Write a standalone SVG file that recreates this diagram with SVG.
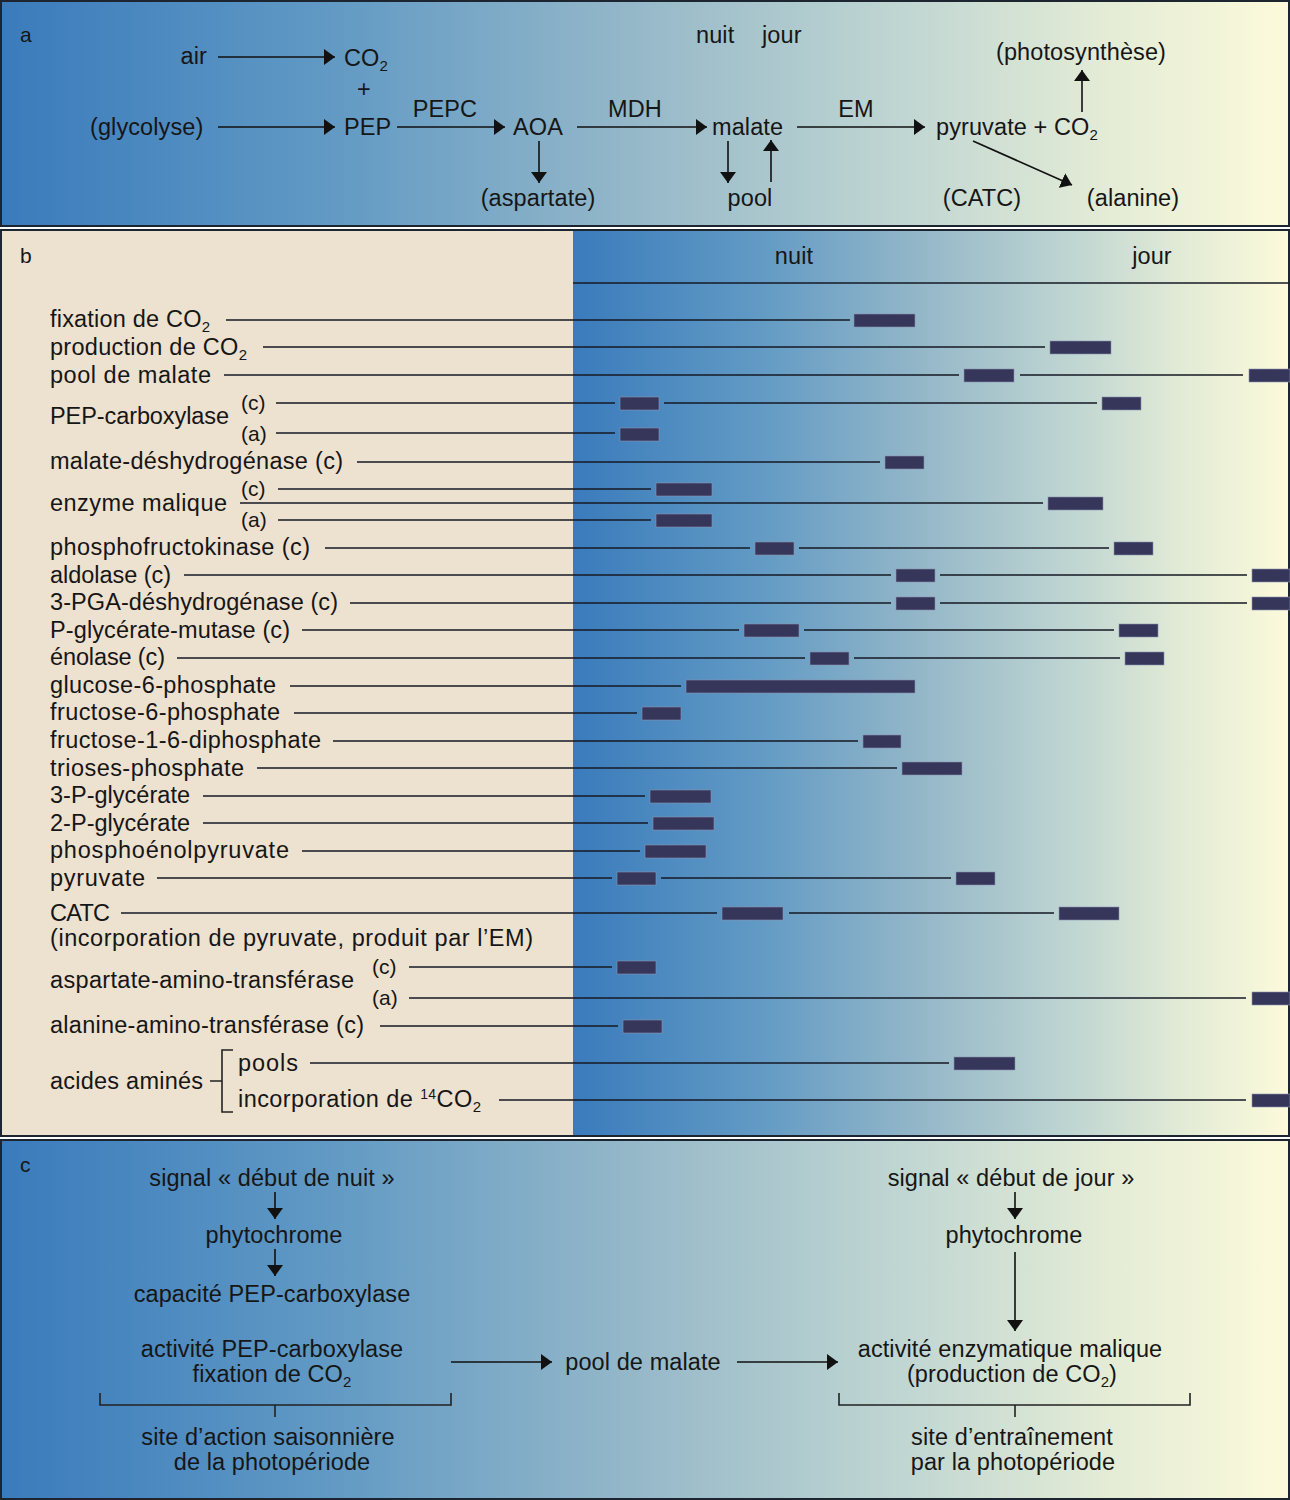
<svg xmlns="http://www.w3.org/2000/svg" width="1290" height="1500" viewBox="0 0 1290 1500">
<defs>
<linearGradient id="grad" x1="0" y1="0" x2="1" y2="0">
<stop offset="0" stop-color="#3a7bbc"/>
<stop offset="0.25" stop-color="#6099c4"/>
<stop offset="0.5" stop-color="#97b9c9"/>
<stop offset="0.7" stop-color="#c0d6d2"/>
<stop offset="0.86" stop-color="#e4ecd6"/>
<stop offset="1" stop-color="#fcfadb"/>
</linearGradient>
<marker id="ah" markerUnits="userSpaceOnUse" markerWidth="12" markerHeight="16" refX="11" refY="8" orient="auto">
<path d="M0,0 L11,8 L0,16 z" fill="#111"/>
</marker>
<style>
text{font-family:"Liberation Sans",Arial,sans-serif;font-size:23.5px;letter-spacing:0.1px;fill:#161616}
.m{text-anchor:middle}
.e{text-anchor:end}
.s{font-size:21px;letter-spacing:0}
.sub{font-size:15px}
#b-labels text{letter-spacing:0}
.ln{stroke:#161a24;stroke-width:1.6;fill:none}
.ar{stroke:#111;stroke-width:1.6;fill:none;marker-end:url(#ah)}
.br{stroke:#222;stroke-width:1.6;fill:none}
.bar{fill:#36365a;stroke:#8a93ad;stroke-width:0.6}
.frame{fill:none;stroke:#1d2530;stroke-width:2}
</style>
</defs>

<!-- backgrounds -->
<rect x="1" y="1" width="1288" height="225" fill="url(#grad)"/>
<rect x="1" y="230" width="572" height="906" fill="#ede1d0"/>
<rect x="573" y="230" width="716" height="906" fill="url(#grad)"/>
<rect x="1" y="1140" width="1288" height="359" fill="url(#grad)"/>
<rect class="frame" x="1" y="1" width="1288" height="225"/>
<rect class="frame" x="1" y="230" width="1288" height="906"/>
<rect class="frame" x="1" y="1140" width="1288" height="359"/>

<!-- ===== Panel a ===== -->
<text x="20" y="42" class="s">a</text>
<g id="a-air"><text x="207" y="64" class="e">air</text></g>
<g id="a-co2"><text x="344" y="66">CO<tspan class="sub" dy="5">2</tspan></text></g>
<g id="a-plus"><text x="364" y="97" class="m">+</text></g>
<g id="a-glycolyse"><text x="90" y="135">(glycolyse)</text></g>
<g id="a-pep"><text x="344" y="135">PEP</text></g>
<g id="a-pepc"><text x="445" y="117" class="m">PEPC</text></g>
<g id="a-aoa"><text x="513" y="135">AOA</text></g>
<g id="a-aspartate"><text x="538" y="206" class="m">(aspartate)</text></g>
<g id="a-mdh"><text x="635" y="117" class="m">MDH</text></g>
<g id="a-malate"><text x="712" y="135">malate</text></g>
<g id="a-pool"><text x="750" y="206" class="m">pool</text></g>
<g id="a-nuitjour"><text x="696" y="43">nuit</text><text x="762" y="43">jour</text></g>
<g id="a-em"><text x="856" y="117" class="m">EM</text></g>
<g id="a-pyruvate"><text x="936" y="135">pyruvate + CO<tspan class="sub" dy="5">2</tspan></text></g>
<g id="a-photosynthese"><text x="1081" y="60" class="m">(photosynthèse)</text></g>
<g id="a-catc"><text x="982" y="206" class="m">(CATC)</text></g>
<g id="a-alanine"><text x="1133" y="206" class="m">(alanine)</text></g>

<g id="a-connectors">
<path class="ar" d="M218,57 H335"/>
<path class="ar" d="M218,127 H335"/>
<path class="ar" d="M397,127 H505"/>
<path class="ar" d="M577,127 H707"/>
<path class="ar" d="M797,127 H925"/>
<path class="ar" d="M539,141 V183"/>
<path class="ar" d="M728,141 V183"/>
<path class="ar" d="M771,182 V140"/>
<path class="ar" d="M1082,112 V70"/>
<path class="ar" d="M973,141 L1072,185"/>
</g>

<!-- ===== Panel b ===== -->
<text x="20" y="263" class="s">b</text>
<g id="b-header">
<text x="794" y="264" class="m">nuit</text>
<text x="1152" y="264" class="m">jour</text>
<path class="ln" d="M573,283 H1290" stroke-width="2"/>
</g>

<g id="b-labels">
<text x="50" y="327" textLength="160" lengthAdjust="spacing">fixation de CO<tspan class="sub" dy="5">2</tspan></text>
<text x="50" y="355" textLength="197" lengthAdjust="spacing">production de CO<tspan class="sub" dy="5">2</tspan></text>
<text x="50" y="383" textLength="161" lengthAdjust="spacing">pool de malate</text>
<text x="50" y="424" textLength="179" lengthAdjust="spacing">PEP-carboxylase</text>
<text x="241" y="410" class="s">(c)</text>
<text x="241" y="441" class="s">(a)</text>
<text x="50" y="469" textLength="293" lengthAdjust="spacing">malate-déshydrogénase (c)</text>
<text x="50" y="511" textLength="177" lengthAdjust="spacing">enzyme malique</text>
<text x="241" y="496" class="s">(c)</text>
<text x="241" y="527" class="s">(a)</text>
<text x="50" y="555" textLength="260" lengthAdjust="spacing">phosphofructokinase (c)</text>
<text x="50" y="583" textLength="121" lengthAdjust="spacing">aldolase (c)</text>
<text x="50" y="610" textLength="288" lengthAdjust="spacing">3-PGA-déshydrogénase (c)</text>
<text x="50" y="638" textLength="240" lengthAdjust="spacing">P-glycérate-mutase (c)</text>
<text x="50" y="665" textLength="115" lengthAdjust="spacing">énolase (c)</text>
<text x="50" y="693" textLength="226" lengthAdjust="spacing">glucose-6-phosphate</text>
<text x="50" y="720" textLength="230" lengthAdjust="spacing">fructose-6-phosphate</text>
<text x="50" y="748" textLength="271" lengthAdjust="spacing">fructose-1-6-diphosphate</text>
<text x="50" y="776" textLength="194" lengthAdjust="spacing">trioses-phosphate</text>
<text x="50" y="803" textLength="140" lengthAdjust="spacing">3-P-glycérate</text>
<text x="50" y="831" textLength="140" lengthAdjust="spacing">2-P-glycérate</text>
<text x="50" y="858" textLength="239" lengthAdjust="spacing">phosphoénolpyruvate</text>
<text x="50" y="886" textLength="95" lengthAdjust="spacing">pyruvate</text>
<text x="50" y="921" textLength="60" lengthAdjust="spacing">CATC</text>
<text x="50" y="946" textLength="483" lengthAdjust="spacing">(incorporation de pyruvate, produit par l’EM)</text>
<text x="50" y="988" textLength="304" lengthAdjust="spacing">aspartate-amino-transférase</text>
<text x="372" y="974" class="s">(c)</text>
<text x="372" y="1005" class="s">(a)</text>
<text x="50" y="1033" textLength="314" lengthAdjust="spacing">alanine-amino-transférase (c)</text>
<text x="50" y="1089" textLength="153" lengthAdjust="spacing">acides aminés</text>
<text x="238" y="1071" textLength="60" lengthAdjust="spacing">pools</text>
<text x="238" y="1107" textLength="243" lengthAdjust="spacing">incorporation de <tspan font-size="14" dy="-8">14</tspan><tspan dy="8">CO</tspan><tspan class="sub" dy="5">2</tspan></text>
<path class="br" d="M210,1081 H222 M233,1050 H222 V1112 H233"/>
</g>

<g id="b-connectors">
<path class="ln" d="M226,320 H850 M263,347 H1045 M224,375 H959 M1020,375 H1243
M276,403 H615 M664,403 H1097 M276,433 H615
M357,462 H880
M278,489 H651 M240,503 H1043 M278,520 H651
M325,548 H750 M799,548 H1109
M184,575 H891 M940,575 H1247
M350,603 H891 M940,603 H1247
M302,630 H739 M804,630 H1114
M177,658 H805 M854,658 H1120
M290,686 H681
M294,713 H637
M333,741 H858
M257,768 H897
M203,796 H645
M203,823 H648
M302,851 H640
M157,878 H612 M661,878 H951
M121,913 H717 M789,913 H1054
M409,967 H612 M409,998 H1246
M380,1026 H618
M310,1063 H949
M499,1100 H1246"/>
</g>

<g id="b-bars">
<rect class="bar" x="854" y="314" width="61" height="13"/>
<rect class="bar" x="1050" y="341" width="61" height="13"/>
<rect class="bar" x="964" y="369" width="50" height="13"/>
<rect class="bar" x="1249" y="369" width="41" height="13"/>
<rect class="bar" x="620" y="397" width="39" height="13"/>
<rect class="bar" x="1102" y="397" width="39" height="13"/>
<rect class="bar" x="620" y="428" width="39" height="13"/>
<rect class="bar" x="885" y="456" width="39" height="13"/>
<rect class="bar" x="656" y="483" width="56" height="13"/>
<rect class="bar" x="1048" y="497" width="55" height="13"/>
<rect class="bar" x="656" y="514" width="56" height="13"/>
<rect class="bar" x="755" y="542" width="39" height="13"/>
<rect class="bar" x="1114" y="542" width="39" height="13"/>
<rect class="bar" x="896" y="569" width="39" height="13"/>
<rect class="bar" x="1252" y="569" width="38" height="13"/>
<rect class="bar" x="896" y="597" width="39" height="13"/>
<rect class="bar" x="1252" y="597" width="38" height="13"/>
<rect class="bar" x="744" y="624" width="55" height="13"/>
<rect class="bar" x="1119" y="624" width="39" height="13"/>
<rect class="bar" x="810" y="652" width="39" height="13"/>
<rect class="bar" x="1125" y="652" width="39" height="13"/>
<rect class="bar" x="686" y="680" width="229" height="13"/>
<rect class="bar" x="642" y="707" width="39" height="13"/>
<rect class="bar" x="863" y="735" width="38" height="13"/>
<rect class="bar" x="902" y="762" width="60" height="13"/>
<rect class="bar" x="650" y="790" width="61" height="13"/>
<rect class="bar" x="653" y="817" width="61" height="13"/>
<rect class="bar" x="645" y="845" width="61" height="13"/>
<rect class="bar" x="617" y="872" width="39" height="13"/>
<rect class="bar" x="956" y="872" width="39" height="13"/>
<rect class="bar" x="722" y="907" width="61" height="13"/>
<rect class="bar" x="1059" y="907" width="60" height="13"/>
<rect class="bar" x="617" y="961" width="39" height="13"/>
<rect class="bar" x="1252" y="992" width="38" height="13"/>
<rect class="bar" x="623" y="1020" width="39" height="13"/>
<rect class="bar" x="954" y="1057" width="61" height="13"/>
<rect class="bar" x="1252" y="1094" width="38" height="13"/>
</g>

<!-- ===== Panel c ===== -->
<text x="20" y="1172" class="s">c</text>
<g id="c-signal-nuit"><text x="272" y="1186" class="m">signal « début de nuit »</text></g>
<g id="c-phyto-nuit"><text x="274" y="1243" class="m">phytochrome</text></g>
<g id="c-capacite"><text x="272" y="1302" class="m">capacité PEP-carboxylase</text></g>
<g id="c-activite-pepc"><text x="272" y="1357" class="m">activité PEP-carboxylase</text><text x="272" y="1382" class="m">fixation de CO<tspan class="sub" dy="5">2</tspan></text></g>
<g id="c-site-action"><text x="268" y="1445" class="m">site d’action saisonnière</text><text x="272" y="1470" class="m">de la photopériode</text></g>
<g id="c-pool"><text x="643" y="1370" class="m">pool de malate</text></g>
<g id="c-signal-jour"><text x="1011" y="1186" class="m">signal « début de jour »</text></g>
<g id="c-phyto-jour"><text x="1014" y="1243" class="m">phytochrome</text></g>
<g id="c-activite-em"><text x="1010" y="1357" class="m">activité enzymatique malique</text><text x="1012" y="1382" class="m">(production de CO<tspan class="sub" dy="5">2</tspan><tspan dy="-5">)</tspan></text></g>
<g id="c-site-entrainement"><text x="1012" y="1445" class="m">site d’entraînement</text><text x="1013" y="1470" class="m">par la photopériode</text></g>

<g id="c-connectors">
<path class="ar" d="M275,1192 V1219"/>
<path class="ar" d="M275,1249 V1276"/>
<path class="ar" d="M451,1362 H552"/>
<path class="ar" d="M737,1362 H838"/>
<path class="ar" d="M1015,1192 V1219"/>
<path class="ar" d="M1015,1252 V1331"/>
<path class="br" d="M100,1393 V1405 H451 V1393 M275,1405 V1417"/>
<path class="br" d="M839,1393 V1405 H1190 V1393 M1015,1405 V1417"/>
</g>
</svg>
